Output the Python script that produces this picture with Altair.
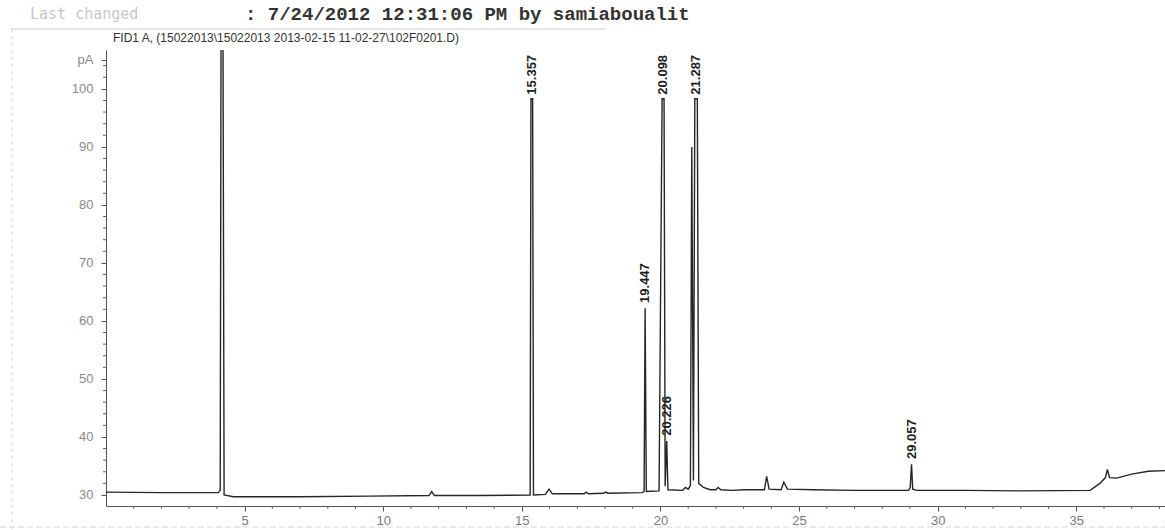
import altair as alt
import pandas as pd

# ---- chromatogram trace (time in min, signal in pA) ----
trace_time = [0.0, 2.0, 4.05, 4.12, 4.15, 4.22, 4.26, 4.6, 7.0, 9.5,
              11.65, 11.75, 11.85, 13.5, 15.30, 15.33, 15.39, 15.42, 15.85, 15.98,
              16.10, 17.25, 17.32, 17.40, 17.95, 18.02, 18.10, 19.35, 19.41, 19.447,
              19.49, 19.95, 20.06, 20.13, 20.17, 20.226, 20.27, 20.8, 20.9, 21.0,
              21.08, 21.13, 21.19, 21.24, 21.33, 21.38, 21.55, 21.8, 22.0, 22.08,
              22.18, 22.6, 23.0, 23.75, 23.83, 23.92, 24.35, 24.45, 24.58, 25.5,
              27.0, 28.95, 29.01, 29.057, 29.10, 29.25, 31.0, 33.0, 35.5, 35.85,
              36.05, 36.12, 36.2, 36.45, 37.0, 37.6, 38.2]
trace_signal = [30.5, 30.4, 30.4, 30.8, 110, 110, 30.0, 29.7, 29.7, 29.8,
                29.9, 30.6, 29.9, 29.9, 30.0, 98.3, 98.3, 30.0, 30.1, 31.0,
                30.2, 30.2, 30.5, 30.2, 30.3, 30.5, 30.3, 30.4, 30.6, 62.2,
                30.6, 30.7, 98.3, 98.3, 31.5, 39.3, 30.9, 30.8, 31.3, 31.0,
                31.6, 90.0, 32.5, 98.3, 98.3, 32.0, 31.3, 30.9, 30.9, 31.3,
                30.9, 30.8, 30.9, 30.9, 33.2, 31.0, 30.9, 32.2, 31.0, 30.9,
                30.8, 30.8, 31.3, 35.3, 31.0, 30.8, 30.8, 30.7, 30.8, 32.0,
                33.0, 34.4, 33.0, 32.9, 33.6, 34.1, 34.2]

# ---- labelled peaks ----
peak_rt = [15.357, 19.447, 20.098, 20.226, 21.287, 29.057]
peak_label = ["15.357", "19.447", "20.098", "20.226", "21.287", "29.057"]
peak_top = [98.3, 62.2, 98.3, 39.3, 98.3, 35.3]

# ---- axis ticks ----
x_ticks = [5, 10, 15, 20, 25, 30, 35]
y_ticks = [30, 40, 50, 60, 70, 80, 90, 100]

header_left = "Last changed"
header_right = ": 7/24/2012 12:31:06 PM by samiaboualit"
signal_title = "FID1 A, (15022013\\15022013 2013-02-15 11-02-27\\102F0201.D)"

# ---------------------------------------------------------------
W, H = 1059, 456
XDOM = [0, 38.2]
YDOM = [28.1, 106.7]
FONT = "Liberation Sans"

xaxis = alt.Axis(values=x_ticks, grid=False, tickSize=5, tickColor="#555",
                 domainColor="#555", labelColor="#7a7a7a", labelFontSize=13,
                 labelFont=FONT, labelPadding=3, title=None)
yaxis = alt.Axis(values=y_ticks + [105], grid=False, tickSize=5, tickColor="#555",
                 domainColor="#555", labelColor="#8a8a8a", labelFontSize=13,
                 labelFont=FONT, labelPadding=8, title=None,
                 labelExpr="datum.value == 105 ? 'pA' : datum.label")
XE = alt.X("t:Q", scale=alt.Scale(domain=XDOM, nice=False, zero=False), axis=xaxis)
YE = alt.Y("v:Q", scale=alt.Scale(domain=YDOM, nice=False, zero=False), axis=yaxis)

trace_df = pd.DataFrame({"t": trace_time, "v": trace_signal})
label_y = [p + 0.9 if p < 98 else 99.0 for p in peak_top]
label_df = pd.DataFrame({"t": peak_rt, "v": label_y, "lab": peak_label})

y_minor = pd.DataFrame({"v": [v for v in range(30, 106, 2) if v % 10 != 0]})
x_minor = pd.DataFrame({"t": [t for t in range(1, 39) if t % 5 != 0]})

trace = alt.Chart(trace_df).mark_line(
    color="#262626", strokeWidth=1.4, clip=True
).encode(x=XE, y=YE, order="t:Q")

labels = alt.Chart(label_df).mark_text(
    angle=270, align="left", baseline="middle", fontSize=13, font=FONT,
    fontWeight="bold", color="#1e1e1e"
).encode(x=XE, y=YE, text="lab:N")

yminor = alt.Chart(y_minor).mark_rule(color="#666", strokeWidth=1).encode(
    y=YE, x=alt.value(0), x2=alt.value(-3))
xminor = alt.Chart(x_minor).mark_rule(color="#666", strokeWidth=1).encode(
    x=XE, y=alt.value(H), y2=alt.value(H + 3))

def txt(s, x, y, **kw):
    return alt.Chart(pd.DataFrame({"s": [s]})).mark_text(**kw).encode(
        x=alt.value(x), y=alt.value(y), text="s:N")

head1 = txt(header_left, -76, -31, align="left", baseline="alphabetic", fontSize=15,
            font="DejaVu Sans Mono", color="#c8c8c8")
head2 = txt(header_right, 139, -30, align="left", baseline="alphabetic", fontSize=19,
            font="Liberation Mono", fontWeight="bold", color="#333")
head3 = txt(signal_title, 7, -12, align="left", baseline="middle", fontSize=12,
            font=FONT, color="#333")

one = pd.DataFrame({"a": [0]})
frame_top = alt.Chart(one).mark_rule(color="#cfcfcf", strokeWidth=1).encode(
    x=alt.value(-96), x2=alt.value(500), y=alt.value(-21))
frame_left = alt.Chart(one).mark_rule(
    color="#cfcfcf", strokeWidth=1, strokeDash=[3, 4]).encode(
    x=alt.value(-94), y=alt.value(-21), y2=alt.value(H + 24))
frame_bottom = alt.Chart(one).mark_rule(
    color="#d8d8d8", strokeWidth=1, strokeDash=[6, 3]).encode(
    x=alt.value(-106), x2=alt.value(W), y=alt.value(H + 21))

chart = alt.layer(
    trace, yminor, xminor, labels,
    frame_top, frame_left, frame_bottom, head1, head2, head3
).properties(
    width=W, height=H,
    autosize=alt.AutoSizeParams(type="none"),
    padding={"left": 106, "top": 50, "right": 0, "bottom": 24},
    background="white",
).configure_view(stroke=None)

chart.save("out.html", embed_options={"renderer": "svg", "actions": False})
